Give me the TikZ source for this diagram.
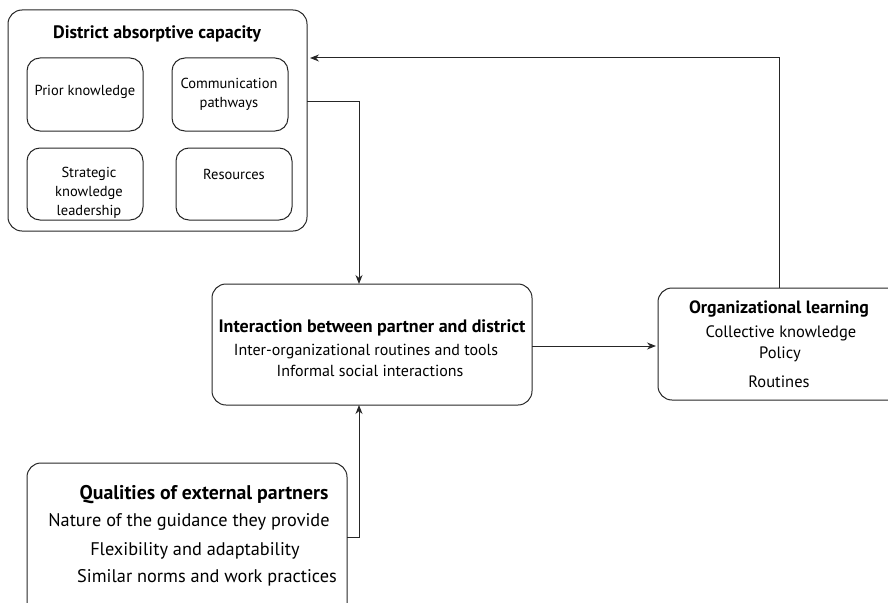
\documentclass[tikz,border=0pt]{standalone}
\usepackage{fontspec}
\setmainfont{PT Sans}
\usetikzlibrary{arrows.meta}
\begin{document}
\begin{tikzpicture}[x=1pt,y=-1pt,
  box/.style={draw=black!85,line width=1pt,rounded corners=14pt},
  sub/.style={draw=black!85,line width=1pt,rounded corners=13pt},
  stxt/.style={font=\fontsize{14.5}{19}\selectfont,inner sep=0pt,align=center},
  ttl/.style={font=\fontsize{#1}{20}\selectfont\bfseries,inner sep=0pt,anchor=base},
  txt/.style={font=\fontsize{#1}{20}\selectfont,inner sep=0pt,anchor=base},
  conn/.style={draw=black!85,line width=1pt},
  arr/.style={conn,-{Stealth[length=9pt,width=7pt]}}]
\useasboundingbox (0,0) rectangle (888,602);
\begin{scope}
\clip (0,0) rectangle (888,602);
% District absorptive capacity
\draw[box] (8,10) rectangle (307,231);
\node[ttl=18] (dactitle) at (157,38) {District absorptive capacity};
\draw[sub] (27,58) rectangle (143,131);
\node[stxt] (prior) at (85,92) {Prior knowledge};
\draw[sub] (172,58) rectangle (288,131);
\node[stxt] (comm) at (229,94) {Communication\\pathways};
\draw[sub] (27,148) rectangle (143,220);
\node[stxt] (strat) at (89,193) {Strategic\\knowledge\\leadership};
\draw[sub] (176,148) rectangle (292,220);
\node[stxt] (res) at (234,174) {Resources};
\coordinate (dacR) at (307,101);
\coordinate (dacFB) at (310,58);
% Interaction
\draw[box] (212,284) rectangle (532,405);
\node[ttl=18] (inttitle) at (372,332) {Interaction between partner and district};
\node[txt=16] (int1) at (366,355) {Inter-organizational routines and tools};
\node[txt=16] (int2) at (370,376) {Informal social interactions};
\coordinate (intT) at (359,284);
\coordinate (intB) at (359,405);
\coordinate (intR) at (532,346);
% Organizational learning
\draw[box] (658,288) rectangle (902,400);
\node[ttl=17.8] (orgtitle) at (779,313) {Organizational learning};
\node[txt=16.5] (org1) at (781,337) {Collective knowledge};
\node[txt=16.5] (org2) at (780,358) {Policy};
\node[txt=16.5] (org3) at (779,387) {Routines};
\coordinate (orgL) at (656,346);
\coordinate (orgT) at (779,288);
% Qualities
\draw[box] (27,463) rectangle (347,625);
\node[ttl=19.8] (qtitle) at (204,499) {Qualities of external partners};
\node[txt=18.3] (q1) at (189,526) {Nature of the guidance they provide};
\node[txt=18.3] (q2) at (195,555) {Flexibility and adaptability};
\node[txt=18.3] (q3) at (207,582) {Similar norms and work practices};
\coordinate (qR) at (347,537);
% connectors
\draw[arr] (dacR) -| (intT);
\draw[arr] (intR) -- (orgL);
\draw[arr] (orgT) |- (dacFB);
\draw[arr] (qR) -| (intB);
\end{scope}
\end{tikzpicture}
\end{document}
